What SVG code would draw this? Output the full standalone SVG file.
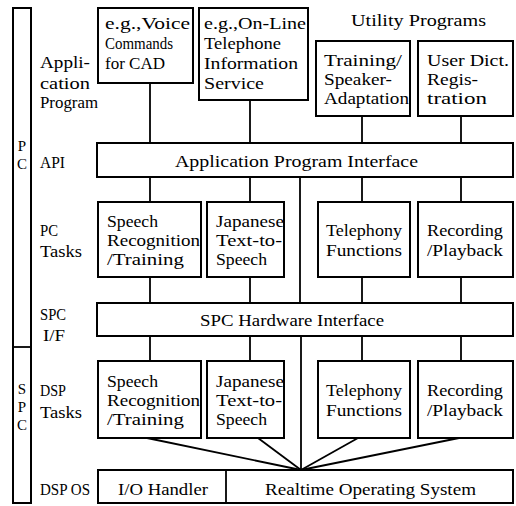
<svg xmlns="http://www.w3.org/2000/svg" width="516" height="506" viewBox="0 0 516 506">
<style>
.b{fill:#fff;stroke:#000;stroke-width:2}
.c{stroke:#000;stroke-width:1.8;fill:none}
text{font-family:"Liberation Serif","Times New Roman",serif;font-size:17px;fill:#000}
.m{text-anchor:middle}
.s{font-size:15px}
</style>
<rect width="516" height="506" fill="#fff"/>
<g id="side">
<rect class="b" x="13" y="8" width="18" height="495"/>
<line class="c" x1="13" y1="347" x2="31" y2="347" stroke-width="2"/>
<text class="m s" x="22" y="151">P</text>
<text class="m s" x="22" y="169">C</text>
<text class="m s" x="22" y="394">S</text>
<text class="m s" x="22" y="412">P</text>
<text class="m s" x="22" y="430">C</text>
</g>
<g id="labels">
<text x="40" y="68" textLength="50" lengthAdjust="spacingAndGlyphs">Appli-</text>
<text x="40" y="89" textLength="50" lengthAdjust="spacingAndGlyphs">cation</text>
<text x="40" y="108" textLength="58" lengthAdjust="spacingAndGlyphs">Program</text>
<text x="40" y="168" textLength="25" lengthAdjust="spacingAndGlyphs">API</text>
<text x="40" y="236" textLength="18" lengthAdjust="spacingAndGlyphs">PC</text>
<text x="40" y="257" textLength="42" lengthAdjust="spacingAndGlyphs">Tasks</text>
<text x="40" y="320" textLength="26" lengthAdjust="spacingAndGlyphs">SPC</text>
<text x="43" y="341" textLength="22" lengthAdjust="spacingAndGlyphs">I/F</text>
<text x="40" y="396" textLength="26" lengthAdjust="spacingAndGlyphs">DSP</text>
<text x="40" y="418" textLength="42" lengthAdjust="spacingAndGlyphs">Tasks</text>
<text x="40" y="495" textLength="50" lengthAdjust="spacingAndGlyphs">DSP OS</text>
<text x="351" y="26" textLength="135" lengthAdjust="spacingAndGlyphs">Utility Programs</text>
</g>
<g id="connectors">
<line class="c" x1="150" y1="83" x2="150" y2="143"/>
<line class="c" x1="250" y1="100" x2="250" y2="143"/>
<line class="c" x1="362" y1="116" x2="362" y2="143"/>
<line class="c" x1="461" y1="116" x2="461" y2="143"/>
<line class="c" x1="150" y1="177" x2="150" y2="202"/>
<line class="c" x1="250" y1="177" x2="250" y2="202"/>
<line class="c" x1="362" y1="177" x2="362" y2="202"/>
<line class="c" x1="461" y1="177" x2="461" y2="202"/>
<line class="c" x1="300" y1="177" x2="300" y2="303"/>
<line class="c" x1="150" y1="277" x2="150" y2="303"/>
<line class="c" x1="250" y1="277" x2="250" y2="303"/>
<line class="c" x1="362" y1="277" x2="362" y2="303"/>
<line class="c" x1="461" y1="277" x2="461" y2="303"/>
<line class="c" x1="150" y1="336" x2="150" y2="361"/>
<line class="c" x1="250" y1="336" x2="250" y2="361"/>
<line class="c" x1="362" y1="336" x2="362" y2="361"/>
<line class="c" x1="461" y1="336" x2="461" y2="361"/>
<line class="c" x1="301" y1="336" x2="301" y2="470"/>
<line class="c" x1="147" y1="438" x2="301" y2="470"/>
<line class="c" x1="258" y1="438" x2="301" y2="470"/>
<line class="c" x1="358" y1="438" x2="301" y2="470"/>
<line class="c" x1="459" y1="438" x2="301" y2="470"/>
</g>
<g id="voice">
<rect class="b" x="98" y="8" width="95" height="75"/>
<text x="105" y="29" textLength="85" lengthAdjust="spacingAndGlyphs">e.g.,Voice</text>
<text x="105" y="49" textLength="68" lengthAdjust="spacingAndGlyphs">Commands</text>
<text x="105" y="69" textLength="60" lengthAdjust="spacingAndGlyphs">for CAD</text>
</g>
<g id="online">
<rect class="b" x="199" y="8" width="109" height="92"/>
<text x="204" y="29" textLength="102" lengthAdjust="spacingAndGlyphs">e.g.,On-Line</text>
<text x="204" y="49" textLength="77" lengthAdjust="spacingAndGlyphs">Telephone</text>
<text x="204" y="69" textLength="94" lengthAdjust="spacingAndGlyphs">Information</text>
<text x="204" y="89" textLength="60" lengthAdjust="spacingAndGlyphs">Service</text>
</g>
<g id="training">
<rect class="b" x="316" y="41" width="94" height="75"/>
<text x="324" y="66" textLength="78" lengthAdjust="spacingAndGlyphs">Training/</text>
<text x="324" y="85" textLength="68" lengthAdjust="spacingAndGlyphs">Speaker-</text>
<text x="324" y="104" textLength="85" lengthAdjust="spacingAndGlyphs">Adaptation</text>
</g>
<g id="userdict">
<rect class="b" x="418" y="41" width="95" height="75"/>
<text x="427" y="66" textLength="82" lengthAdjust="spacingAndGlyphs">User Dict.</text>
<text x="427" y="85" textLength="51" lengthAdjust="spacingAndGlyphs">Regis-</text>
<text x="427" y="104" textLength="60" lengthAdjust="spacingAndGlyphs">tration</text>
</g>
<g id="api">
<rect class="b" x="97" y="143" width="416" height="34"/>
<text x="175" y="167" textLength="243" lengthAdjust="spacingAndGlyphs">Application Program Interface</text>
</g>
<g id="pc-speech">
<rect class="b" x="98" y="202" width="103" height="75"/>
<text x="107" y="227" textLength="51" lengthAdjust="spacingAndGlyphs">Speech</text>
<text x="107" y="246" textLength="93" lengthAdjust="spacingAndGlyphs">Recognition</text>
<text x="107" y="265" textLength="77" lengthAdjust="spacingAndGlyphs">/Training</text>
</g>
<g id="pc-tts">
<rect class="b" x="207" y="202" width="77" height="75"/>
<text x="216" y="227" textLength="68" lengthAdjust="spacingAndGlyphs">Japanese</text>
<text x="216" y="246" textLength="66" lengthAdjust="spacingAndGlyphs">Text-to-</text>
<text x="216" y="265" textLength="51" lengthAdjust="spacingAndGlyphs">Speech</text>
</g>
<g id="pc-tel">
<rect class="b" x="318" y="202" width="92" height="75"/>
<text x="326" y="236" textLength="76" lengthAdjust="spacingAndGlyphs">Telephony</text>
<text x="326" y="256" textLength="76" lengthAdjust="spacingAndGlyphs">Functions</text>
</g>
<g id="pc-rec">
<rect class="b" x="418" y="202" width="95" height="75"/>
<text x="427" y="236" textLength="76" lengthAdjust="spacingAndGlyphs">Recording</text>
<text x="427" y="256" textLength="76" lengthAdjust="spacingAndGlyphs">/Playback</text>
</g>
<g id="spc">
<rect class="b" x="97" y="303" width="416" height="33"/>
<text x="200" y="326" textLength="184" lengthAdjust="spacingAndGlyphs">SPC Hardware Interface</text>
</g>
<g id="dsp-speech">
<rect class="b" x="98" y="361" width="103" height="77"/>
<text x="107" y="387" textLength="51" lengthAdjust="spacingAndGlyphs">Speech</text>
<text x="107" y="406" textLength="93" lengthAdjust="spacingAndGlyphs">Recognition</text>
<text x="107" y="425" textLength="77" lengthAdjust="spacingAndGlyphs">/Training</text>
</g>
<g id="dsp-tts">
<rect class="b" x="207" y="361" width="77" height="77"/>
<text x="216" y="387" textLength="68" lengthAdjust="spacingAndGlyphs">Japanese</text>
<text x="216" y="406" textLength="66" lengthAdjust="spacingAndGlyphs">Text-to-</text>
<text x="216" y="425" textLength="51" lengthAdjust="spacingAndGlyphs">Speech</text>
</g>
<g id="dsp-tel">
<rect class="b" x="318" y="361" width="92" height="77"/>
<text x="326" y="396" textLength="76" lengthAdjust="spacingAndGlyphs">Telephony</text>
<text x="326" y="416" textLength="76" lengthAdjust="spacingAndGlyphs">Functions</text>
</g>
<g id="dsp-rec">
<rect class="b" x="418" y="361" width="95" height="77"/>
<text x="427" y="396" textLength="76" lengthAdjust="spacingAndGlyphs">Recording</text>
<text x="427" y="416" textLength="76" lengthAdjust="spacingAndGlyphs">/Playback</text>
</g>
<g id="dspos">
<rect class="b" x="98" y="470" width="415" height="33"/>
<line class="c" x1="226" y1="470" x2="226" y2="503" stroke-width="2"/>
<text x="118" y="495" textLength="90" lengthAdjust="spacingAndGlyphs">I/O Handler</text>
<text x="265" y="495" textLength="211" lengthAdjust="spacingAndGlyphs">Realtime Operating System</text>
</g>
</svg>
